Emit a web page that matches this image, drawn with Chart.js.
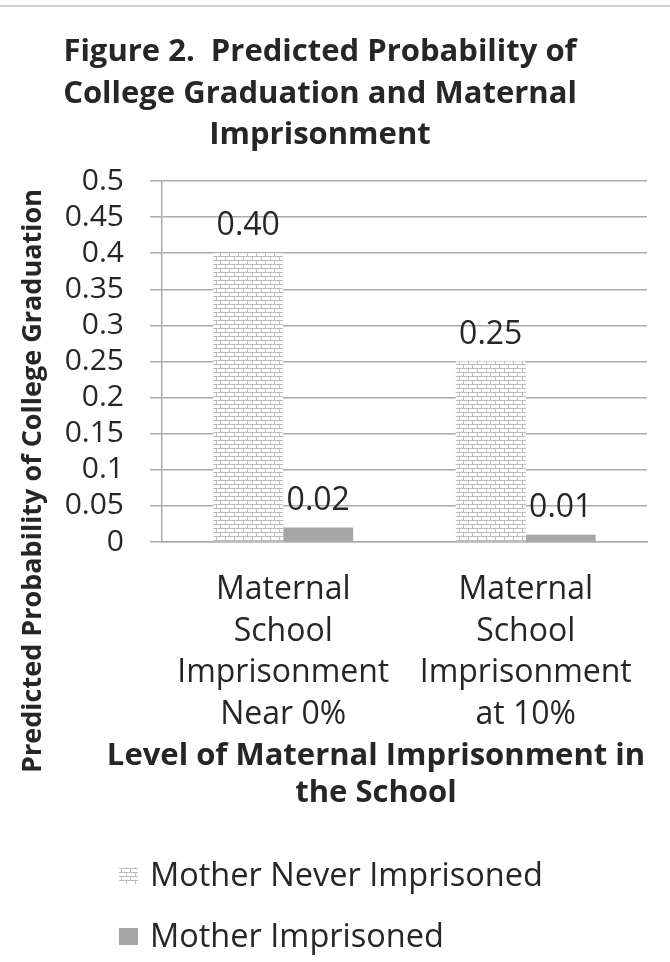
<!DOCTYPE html>
<html><head><meta charset="utf-8">
<script src="https://cdn.jsdelivr.net/npm/chart.js@4.4.1/dist/chart.umd.min.js"></script>
<style>html,body{margin:0;padding:0;background:#fff;} canvas{display:block;}</style>
</head><body>
<canvas id="c" width="670" height="962"></canvas>
<script>
const titleLines = ['Figure 2.  Predicted Probability of', 'College Graduation and Maternal', 'Imprisonment'];
const categories = [['Maternal', 'School', 'Imprisonment', 'Near 0%'], ['Maternal', 'School', 'Imprisonment', 'at 10%']];
const seriesNames = ['Mother Never Imprisoned', 'Mother Imprisoned'];
const neverImprisoned = [0.40, 0.25];
const imprisoned = [0.02, 0.01];
const yTickLabels = ['0', '0.05', '0.1', '0.15', '0.2', '0.25', '0.3', '0.35', '0.4', '0.45', '0.5'];
const yAxisTitle = 'Predicted Probability of College Graduation';
const xAxisTitleLines = ['Level of Maternal Imprisonment in', 'the School'];

const TEXT = '#262626';
const GRID = '#ababab';
const GRAY = '#a6a6a6';
const BOLD = "'Open Sans', sans-serif";
const REG = "'Open Sans', sans-serif";

const canvas = document.getElementById('c');
const ctx0 = canvas.getContext('2d');
function brickPattern(ctx) {
  const t = document.createElement('canvas');
  t.width = 9; t.height = 8;
  const g = t.getContext('2d');
  g.fillStyle = '#ffffff'; g.fillRect(0, 0, 9, 8);
  g.fillStyle = '#bdbdbd';
  g.fillRect(0, 0, 9, 1); g.fillRect(0, 4, 9, 1);
  g.fillRect(0, 0, 1, 4); g.fillRect(4, 4, 1, 4);
  return ctx.createPattern(t, 'repeat');
}
const brick = brickPattern(ctx0);

const decor = {
  id: 'decor',
  beforeDraw(chart) {
    const c = chart.ctx;
    c.save();
    c.fillStyle = '#cfcfcf';
    c.fillRect(0, 5, chart.width, 2);
    c.restore();
  },
  afterDatasetsDraw(chart) {
    const c = chart.ctx;
    c.save();
    c.font = "32px " + REG;
    c.fillStyle = TEXT;
    c.textAlign = 'center';
    c.textBaseline = 'alphabetic';
    chart.data.datasets.forEach((ds, i) => {
      chart.getDatasetMeta(i).data.forEach((bar, j) => {
        c.fillText(ds.data[j].toFixed(2), bar.x, bar.y - 18);
      });
    });
    c.restore();
  },
  afterDraw(chart) {
    const c = chart.ctx;
    c.save();
    c.fillStyle = TEXT;
    c.textAlign = 'center';
    c.textBaseline = 'alphabetic';
    // main title
    c.font = "bold 31px " + BOLD;
    titleLines.forEach((t, i) => c.fillText(t, 320, 61 + i * 41.5));
    // x axis title
    c.font = "bold 31px " + BOLD;
    xAxisTitleLines.forEach((t, i) => c.fillText(t, 376, 765 + i * 37));
    // y axis title
    c.save();
    c.translate(41, 481);
    c.rotate(-Math.PI / 2);
    c.font = "bold 27px " + BOLD;
    c.fillText(yAxisTitle, 0, 0);
    c.restore();
    // legend
    c.textAlign = 'left';
    c.font = "32.5px " + REG;
    const rows = [886, 947];
    chart.data.datasets.forEach((ds, i) => {
      const y = rows[i];
      c.fillStyle = ds.backgroundColor;
      c.fillRect(119, y - 19, 19, 17);
      c.fillStyle = TEXT;
      c.fillText(ds.label, 150, y);
    });
    c.restore();
  }
};

new Chart(canvas, {
  type: 'bar',
  data: {
    labels: categories,
    datasets: [
      { label: seriesNames[0], data: neverImprisoned, backgroundColor: brick, borderWidth: 0 },
      { label: seriesNames[1], data: imprisoned, backgroundColor: GRAY, borderWidth: 0 }
    ]
  },
  options: {
    responsive: false,
    animation: false,
    devicePixelRatio: 1,
    layout: { padding: { top: 181, right: 23, bottom: 220, left: 0 } },
    datasets: { bar: { categoryPercentage: 0.577, barPercentage: 1.0 } },
    plugins: { legend: { display: false }, title: { display: false }, tooltip: { enabled: false } },
    scales: {
      x: {
        afterFit(s) { s.height = 200; },
        grid: { display: false, drawTicks: false },
        border: { display: true, color: GRID, width: 1.5 },
        ticks: {
          color: TEXT, padding: 27, maxRotation: 0, autoSkip: false,
          font: { family: REG, size: 32, lineHeight: 1.3 }
        }
      },
      y: {
        min: 0, max: 0.5,
        afterFit(s) { s.width = 162; },
        afterBuildTicks(s) { s.ticks = yTickLabels.map(t => ({ value: parseFloat(t) })); },
        grid: { color: GRID, lineWidth: 1.5, tickLength: 12, drawTicks: true },
        border: { display: true, color: GRID, width: 1.5 },
        ticks: {
          color: TEXT, padding: 26, autoSkip: false,
          font: { family: REG, size: 30 },
          callback: (v, i) => yTickLabels[i]
        }
      }
    }
  },
  plugins: [decor]
});
</script>
</body></html>
